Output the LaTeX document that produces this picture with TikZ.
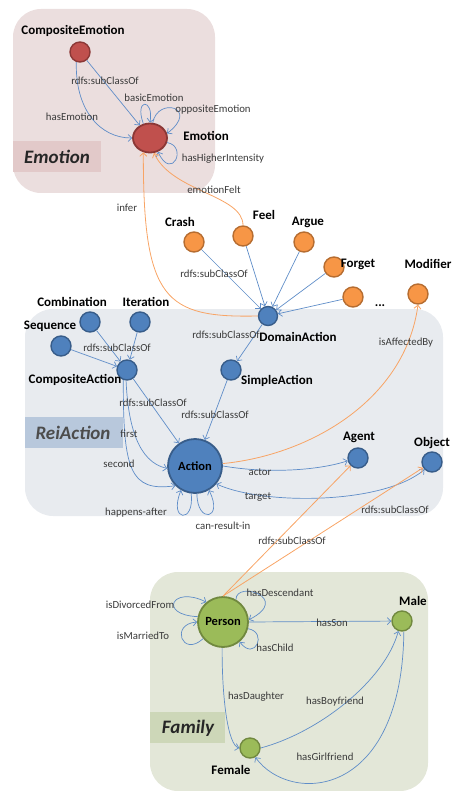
\documentclass[tikz,border=0pt]{standalone}
\usepackage{fontspec}
\setmainfont{Carlito}
\usetikzlibrary{arrows.meta,shapes.geometric}
\definecolor{bluefill}{HTML}{4F81BD}
\definecolor{bluedraw}{HTML}{385D8A}
\definecolor{redfill}{HTML}{C0504D}
\definecolor{reddraw}{HTML}{8C3836}
\definecolor{orfill}{HTML}{F79646}
\definecolor{ordraw}{HTML}{B66D31}
\definecolor{grfill}{HTML}{9BBB59}
\definecolor{grdraw}{HTML}{71893F}
\definecolor{blueline}{HTML}{5F8DC8}
\definecolor{orline}{HTML}{F8A465}
\definecolor{emobox}{HTML}{EBDEDE}
\definecolor{emolab}{HTML}{E2C9C9}
\definecolor{reibox}{HTML}{E8EBEF}
\definecolor{reilab}{HTML}{B8C8DC}
\definecolor{fambox}{HTML}{E3E7D8}
\definecolor{famlab}{HTML}{CDD7B8}
\definecolor{labtext}{HTML}{3A3A3A}
\tikzset{
  cnode/.style={circle, line width=1.4pt, minimum size=20pt, inner sep=0pt},
  bnode/.style={cnode, fill=bluefill, draw=bluedraw},
  rnode/.style={cnode, fill=redfill, draw=reddraw},
  onode/.style={cnode, fill=orfill, draw=ordraw},
  gnode/.style={cnode, fill=grfill, draw=grdraw},
  nlab/.style={font=\fontsize{13}{13}\selectfont\bfseries, text=black, inner sep=0pt},
  elab/.style={font=\fontsize{10.8}{10.8}\selectfont, text=labtext, inner sep=0pt},
  glab/.style={font=\fontsize{19}{19}\selectfont\bfseries\itshape, inner sep=0pt},
  bl/.style={draw=blueline, line width=0.7pt, -{Straight Barb[length=3.5pt,width=7pt]}},
  ol/.style={draw=orline, line width=0.8pt, -{Straight Barb[length=3.5pt,width=7pt]}},
  grp/.style={rounded corners=28pt}
}
\begin{document}
\begin{tikzpicture}[x=1pt,y=-1pt]
\useasboundingbox (0,0) rectangle (452,791);
% group boxes
\fill[emobox,grp] (13,9) rectangle (215,193);
\fill[emolab] (13,141) rectangle (101,172);
\node[glab, text=black!85] (gemo) at (57,157) {Emotion};
\fill[reibox,grp] (25,309) rectangle (443,516);
\fill[reilab] (25,417) rectangle (123,448);
\node[glab, text=black!70] (grei) at (73,433) {ReiAction};
\fill[fambox,grp] (150,572) rectangle (428,791);
\fill[famlab] (150,712) rectangle (225,743);
\node[glab, text=black!85] (gfam) at (188,728) {Family};

% nodes
\node[rnode] (ce) at (80,52) {};
\node[rnode, ellipse, minimum width=34pt, minimum height=29pt, line width=1.8pt] (emo) at (150,138) {};
\node[onode] (crash) at (194,242) {};
\node[onode] (feel) at (243,236) {};
\node[onode] (argue) at (304,242) {};
\node[onode] (forget) at (334,267) {};
\node[onode] (more) at (353,297) {};
\node[onode] (modifier) at (418,294) {};
\node[bnode, minimum size=19pt] (dom) at (268,316) {};
\node[bnode] (combination) at (90,322) {};
\node[bnode] (iteration) at (140,322) {};
\node[bnode] (sequence) at (61,346) {};
\node[bnode] (ca) at (127,370) {};
\node[bnode] (simple) at (231,370) {};
\node[bnode, minimum size=54pt, line width=1.8pt] (act) at (195,466) {};
\node[bnode] (agent) at (358,458) {};
\node[bnode] (object) at (432,462) {};
\node[gnode, minimum size=50pt, line width=1.8pt] (person) at (223,622) {};
\node[gnode] (male) at (402,621) {};
\node[gnode] (female) at (250,748) {};

% emotion edges
\draw[bl] (ce) -- (emo);
\draw[bl] (ce.250) .. controls (75,110) and (100,138) .. (emo.west);
\draw[bl] (emo.115) .. controls (134,98) and (154,98) .. (emo.90);
\draw[bl] (emo.80) .. controls (158,96) and (200,108) .. (emo.15);
\draw[bl] (emo.-15) .. controls (188,146) and (172,182) .. (emo.-60);
\draw[ol] (dom.west) .. controls (165,318) and (143,300) .. (emo.245);
\draw[ol] (feel.north) .. controls (243,195) and (172,192) .. (emo.285);

% domain action edges
\draw[bl] (crash) -- (dom);
\draw[bl] (feel) -- (dom);
\draw[bl] (argue) -- (dom);
\draw[bl] (forget) -- (dom);
\draw[bl] (more) -- (dom);
\draw[bl] (dom) -- (simple);
\draw[bl] (simple) -- (act);
\draw[bl] (combination) -- (ca);
\draw[bl] (iteration) -- (ca);
\draw[bl] (sequence) -- (ca);
\draw[bl] (ca) -- (act);
\draw[bl] (ca.265) .. controls (128,425) and (138,462) .. (act.185);
\draw[bl] (ca.250) .. controls (123,470) and (130,492) .. (act.225);
\draw[bl] (act.262) .. controls (195,524) and (168,522) .. (act.240);
\draw[bl] (act.274) .. controls (197,524) and (224,520) .. (act.300);
\draw[bl] (act.east) .. controls (270,474) and (320,470) .. (agent.195);
\draw[bl,{Straight Barb[length=3.5pt,width=7pt]}-{Straight Barb[length=3.5pt,width=7pt]}] (act.-40) .. controls (262,505) and (382,505) .. (object.225);
\draw[ol] (act.5) .. controls (310,455) and (405,400) .. (modifier.south);
\draw[ol] (person.north) -- (agent);
\draw[ol] (person.north) -- (object);

% family edges
\draw[bl] (person.168) .. controls (158,615) and (172,585) .. (person.130);
\draw[bl] (person.220) .. controls (182,658) and (170,624) .. (person.180);
\draw[bl] (person.60) .. controls (236,580) and (292,598) .. (person.5);
\draw[bl] (person.-15) .. controls (268,632) and (255,662) .. (person.-50);
\draw[bl] (person.east) -- (male);
\draw[bl] (person.268) .. controls (222,700) and (228,745) .. (female.west);
\draw[bl] (female.east) .. controls (320,732) and (385,680) .. (male.250);
\draw[bl] (male.280) .. controls (402,800) and (290,805) .. (female.-60);

% node labels
\node[nlab] (lce) at (73,31) {CompositeEmotion};
\node[nlab] (lemo) at (206,136) {Emotion};
\node[nlab] (lcrash) at (180,222) {Crash};
\node[nlab] (lfeel) at (264,215) {Feel};
\node[nlab] (largue) at (308,222) {Argue};
\node[nlab] (lforget) at (358,264) {Forget};
\node[nlab] (lmod) at (428,264) {Modifier};
\node[nlab] (ldots) at (380,306) {...};
\node[nlab] (lcomb) at (72,302) {Combination};
\node[nlab] (liter) at (146,302) {Iteration};
\node[nlab] (lseq) at (50,326) {Sequence};
\node[nlab] (lca) at (75,380) {CompositeAction};
\node[nlab] (lsimple) at (277,381) {SimpleAction};
\node[nlab] (ldom) at (298,337) {DomainAction};
\node[nlab, font=\fontsize{12.5}{12.5}\selectfont\bfseries] (lact) at (195,466) {Action};
\node[nlab] (lagent) at (359,437) {Agent};
\node[nlab] (lobject) at (432,443) {Object};
\node[nlab, font=\fontsize{12.5}{12.5}\selectfont\bfseries] (lperson) at (223,621) {Person};
\node[nlab] (lmale) at (413,601) {Male};
\node[nlab] (lfemale) at (231,770) {Female};

% edge labels
\node[elab] (e1) at (105,81) {rdfs:subClassOf};
\node[elab] (e2) at (154,98) {basicEmotion};
\node[elab] (e3) at (213,110) {oppositeEmotion};
\node[elab] (e4) at (72,117) {hasEmotion};
\node[elab] (e5) at (223,159) {hasHigherIntensity};
\node[elab] (e6) at (214,190) {emotionFelt};
\node[elab] (e7) at (127,208) {infer};
\node[elab] (e8) at (214,274) {rdfs:subClassOf};
\node[elab] (e9) at (117,348) {rdfs:subClassOf};
\node[elab] (e10) at (226,335) {rdfs:subClassOf};
\node[elab] (e11) at (406,343) {isAffectedBy};
\node[elab] (e12) at (153,403) {rdfs:subClassOf};
\node[elab] (e13) at (215,415) {rdfs:subClassOf};
\node[elab] (e14) at (129,434) {first};
\node[elab] (e15) at (119,464) {second};
\node[elab] (e16) at (260,472) {actor};
\node[elab] (e17) at (258,497) {target};
\node[elab] (e18) at (395,510) {rdfs:subClassOf};
\node[elab] (e19) at (136,513) {happens-after};
\node[elab] (e20) at (223,526) {can-result-in};
\node[elab] (e21) at (292,541) {rdfs:subClassOf};
\node[elab] (e22) at (280,593) {hasDescendant};
\node[elab] (e23) at (140,605) {isDivorcedFrom};
\node[elab] (e24) at (332,623) {hasSon};
\node[elab] (e25) at (143,636) {isMarriedTo};
\node[elab] (e26) at (275,648) {hasChild};
\node[elab] (e27) at (256,697) {hasDaughter};
\node[elab] (e28) at (335,702) {hasBoyfriend};
\node[elab] (e29) at (325,757) {hasGirlfriend};
\end{tikzpicture}
\end{document}
